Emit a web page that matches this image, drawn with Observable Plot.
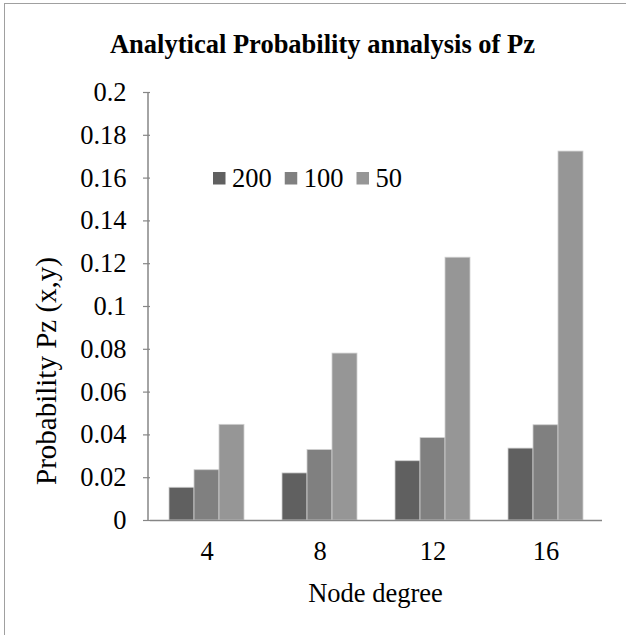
<!DOCTYPE html>
<html>
<head>
<meta charset="utf-8">
<script src="https://cdn.jsdelivr.net/npm/d3@7"></script>
<script src="https://cdn.jsdelivr.net/npm/@observablehq/plot@0.6"></script>
<style>
  body { margin: 0; background: #fff; }
  #wrap { position: relative; width: 626px; height: 635px; overflow: hidden; background: #fff; }
  #border { position: absolute; left: 4px; top: 3px; width: 700px; height: 700px; border: 1.5px solid #a0a0a0; box-sizing: border-box; }
  #chart { position: absolute; left: 0; top: 0; }
  #overlay { position: absolute; left: 0; top: 0; pointer-events: none; }
  #wrap svg, #wrap text { font-family: "Liberation Serif", "Times New Roman", serif !important; }
</style>
</head>
<body>
<div id="wrap">
  <div id="border"></div>
  <div id="chart"></div>
  <svg id="overlay" width="626" height="635"></svg>
</div>
<script>
// ---- data ----
const degrees = [4, 8, 12, 16];
const series = ["200", "100", "50"];
const p200 = [0.0153, 0.022, 0.0277, 0.0336];
const p100 = [0.0235, 0.0329, 0.0385, 0.0445];
const p50  = [0.0447, 0.078, 0.1228, 0.1724];
const yTicks = [0, 0.02, 0.04, 0.06, 0.08, 0.1, 0.12, 0.14, 0.16, 0.18, 0.2];
const colors = ["#606060", "#808080", "#969696"];
const title = "Analytical Probability annalysis of Pz";
const xLabel = "Node degree";
const yLabel = "Probability Pz (x,y)";

const valuesBySeries = {"200": p200, "100": p100, "50": p50};
const table = [];
degrees.forEach((d, i) => series.forEach(s => table.push({degree: d, series: s, value: valuesBySeries[s][i]})));

const W = 626, H = 635;
const mL = 148, mR = 23, mT = 92, mB = 115;
const FONT = "'Liberation Serif', 'Times New Roman', serif";
const FS = 26.5;

const plot = Plot.plot({
  width: W, height: H,
  marginLeft: mL, marginRight: mR, marginTop: mT, marginBottom: mB,
  style: {fontFamily: FONT, fontSize: FS + "px", background: "transparent", color: "#000", overflow: "visible"},
  facet: {data: table, x: "degree"},
  fx: {padding: 0, axis: "bottom", tickSize: 0, tickPadding: 21, label: null, domain: degrees},
  x: {axis: null, domain: series, paddingInner: 0, paddingOuter: 0.746},
  y: {domain: [0, 0.2], axis: null},
  color: {domain: series, range: colors},
  marks: [
    Plot.barY(table, {x: "series", y: "value", fill: "series", stroke: "#cfcfcf", strokeWidth: 0.8}),
    Plot.ruleY([0], {stroke: "#868686", strokeWidth: 1.5}),
    Plot.axisY({ticks: yTicks, tickFormat: d => String(d), tickSize: 7, tickPadding: 17, stroke: "#868686", strokeWidth: 1.2, fill: "#000", label: null})
  ]
});
document.getElementById("chart").appendChild(plot);

// y-axis spine drawn from the plot's own scales
const yS = plot.scale("y");
const fxS = plot.scale("fx");
d3.select(plot).append("line")
  .attr("x1", fxS.range[0]).attr("x2", fxS.range[0])
  .attr("y1", yS.apply(0)).attr("y2", yS.apply(0.2))
  .attr("stroke", "#868686").attr("stroke-width", 1.5);

// overlay: title, axis labels, legend
const ov = d3.select("#overlay");
ov.append("text").text(title)
  .attr("x", 322.5).attr("y", 53).attr("text-anchor", "middle")
  .attr("font-family", FONT)
  .attr("font-weight", "bold").attr("font-size", FS + "px").attr("fill", "#000");
ov.append("text").text(xLabel)
  .attr("x", (fxS.range[0] + fxS.range[1]) / 2).attr("y", 602).attr("text-anchor", "middle")
  .attr("font-family", FONT)
  .attr("font-size", FS + "px").attr("fill", "#000");
ov.append("text").text(yLabel)
  .attr("transform", "translate(56,485) rotate(-90)")
  .attr("font-family", FONT)
  .attr("text-anchor", "start").attr("font-size", "29px").attr("fill", "#000");

// legend
let lx = 213;
series.forEach((s, i) => {
  ov.append("rect").attr("x", lx).attr("y", 172).attr("width", 12.5).attr("height", 12.5).attr("fill", colors[i]);
  const t = ov.append("text").text(s).attr("x", lx + 19).attr("y", 187)
    .attr("font-family", FONT)
    .attr("font-size", FS + "px").attr("fill", "#000");
  lx = lx + 19 + t.node().getComputedTextLength() + 13;
});
</script>
</body>
</html>
